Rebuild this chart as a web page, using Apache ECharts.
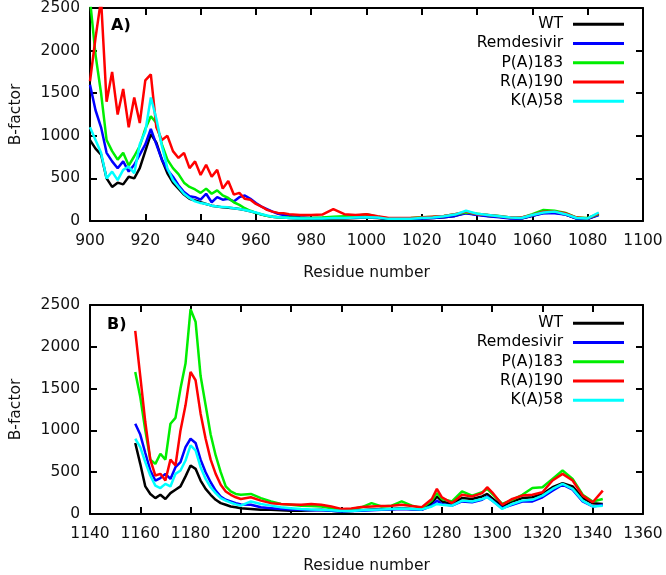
<!DOCTYPE html>
<html>
<head>
<meta charset="utf-8">
<script src="https://cdn.jsdelivr.net/npm/echarts@6/dist/echarts.min.js"></script>
<style>html,body{margin:0;padding:0;background:#fff}#c{width:666px;height:575px}</style>
</head>
<body>
<div id="c"></div>
<script>
// ---- Data ----
const seriesNames = ['WT', 'Remdesivir', 'P(A)183', 'R(A)190', 'K(A)58'];
const xTicksA = [900, 1100, 20];
const xTicksB = [1140, 1360, 20];
const yTicks = [0, 2500, 500];

// Panel A residues
const residuesA = [900,902,904,906,908,910,912,914,916,918,920,922,924,926,928,930,932,934,936,938,
  940,942,944,946,948,950,952,954,956,958,960,962,964,966,968,970,
  972,976,980,984,988,992,996,1000,1004,1008,1012,1016,1020,1024,1028,1032,1036,1040,1044,1048,1052,1056,1060,1064,1068,1072,1076,1080,1084];
const wtA = [950,850,780,500,400,450,430,520,500,620,820,1020,920,720,560,450,380,310,260,240,
  220,200,180,170,160,155,150,140,130,115,95,75,60,50,45,40,
  35,30,25,25,30,30,35,40,35,20,20,25,30,35,45,60,95,75,60,50,35,30,60,95,100,75,30,25,75];
const remA = [1600,1300,1100,800,700,620,700,580,660,780,900,1080,900,720,600,520,420,340,290,280,
  250,320,220,280,250,260,230,280,300,260,210,170,140,110,85,70,
  60,45,35,35,40,40,40,50,40,25,25,25,30,35,45,60,90,70,55,45,30,30,60,90,90,75,30,25,70];
const pA = [2600,1950,1500,950,820,720,800,650,760,880,1080,1230,1150,900,720,620,550,450,400,370,
  330,380,320,360,300,270,220,190,150,120,95,80,60,50,45,40,
  40,35,35,40,50,55,60,80,50,30,30,35,45,50,60,80,100,85,70,60,40,40,80,130,120,95,40,35,80];
const rA = [1640,2150,2600,1400,1750,1250,1550,1100,1450,1150,1650,1720,1100,950,1000,820,740,800,620,700,
  540,660,520,600,380,470,310,330,260,250,200,170,130,110,95,90,
  80,70,70,75,140,80,70,80,55,35,35,35,40,50,60,80,110,80,70,55,40,40,70,110,110,90,40,30,90];
const kA = [1100,950,800,500,580,480,600,640,560,900,1050,1450,1200,880,620,480,400,320,270,230,
  210,200,180,170,165,160,150,140,130,115,100,80,65,50,45,40,
  35,30,30,30,35,35,40,45,40,25,25,25,35,40,55,75,120,85,70,55,40,35,70,100,110,80,35,30,100];

// Panel B residues
const residuesB = [1158,1160,1162,1164,1166,1168,1170,1172,1174,1176,1178,1180,1182,1184,1186,1188,1190,1192,1194,1196,1198,1200,
  1204,1208,1212,1216,1220,1224,1228,1232,1236,1240,1244,1248,1252,1256,1260,1264,1268,1272,
  1276,1278,1280,1284,1288,1292,1296,1298,1300,1304,1308,1312,1316,1320,1324,1328,1332,1336,1340,1344];
const wtB = [850,600,330,240,190,230,180,250,290,330,450,580,540,400,300,230,170,130,110,90,80,70,
  60,50,50,45,40,40,45,50,40,30,35,45,55,60,60,70,60,50,
  130,210,150,120,190,180,210,240,190,90,150,190,200,240,320,370,330,190,130,120];
const remB = [1080,950,730,520,400,430,480,420,560,620,800,900,850,650,500,380,280,210,170,150,130,115,
  110,80,70,60,55,50,45,45,40,30,35,40,45,50,55,60,55,50,
  100,160,120,100,150,140,170,210,160,70,110,150,150,200,280,350,290,150,90,110];
const pB = [1700,1400,1000,650,600,720,650,1080,1150,1500,1800,2450,2300,1650,1300,950,700,500,330,270,240,230,
  240,190,150,120,110,100,95,90,70,55,60,80,130,90,100,150,100,70,
  160,250,180,150,270,220,260,300,240,120,170,230,310,320,420,520,420,230,150,180];
const rB = [2190,1650,1100,650,460,480,400,650,580,1000,1300,1700,1600,1200,900,650,480,350,270,230,200,180,
  200,160,130,120,115,110,120,110,90,60,65,85,90,95,100,110,95,80,
  180,300,200,130,230,210,250,320,260,110,180,220,230,260,400,480,400,220,140,280];
const kB = [900,800,620,460,340,310,360,330,480,520,640,820,760,560,420,320,250,190,160,135,115,100,
  150,120,100,80,70,60,55,50,45,35,35,45,50,55,60,65,60,55,
  90,120,110,100,160,150,180,200,160,60,120,160,170,220,300,360,300,160,90,100];

const colors = ['#000000', '#0000ff', '#00ee00', '#ff0000', '#00ffff'];
const panelA = [wtA, remA, pA, rA, kA];
const panelB = [wtB, remB, pB, rB, kB];

// ---- Chart ----
const FONT = 'DejaVu Sans';
const FS = 15.5;
const txt = {color: '#111', fontFamily: FONT, fontSize: FS};
function pairs(xs, ys) { return xs.map((x, i) => [x, ys[i]]); }
const plain = v => String(v);

function xAx(grid, t, main) {
  return {
    type: 'value', gridIndex: grid, min: t[0], max: t[1], interval: t[2],
    position: main ? 'bottom' : 'top',
    name: main ? 'Residue number' : '', nameLocation: 'middle', nameGap: 44,
    nameTextStyle: txt,
    axisLine: {show: true, onZero: false, lineStyle: {color: '#000', width: 2}},
    axisTick: {show: true, inside: true, length: 7, lineStyle: {color: '#000', width: 2}},
    axisLabel: {show: main, margin: 12, formatter: plain, ...txt},
    splitLine: {show: false}
  };
}
function yAx(grid, main) {
  return {
    type: 'value', gridIndex: grid, min: yTicks[0], max: yTicks[1], interval: yTicks[2],
    position: main ? 'left' : 'right',
    name: main ? 'B-factor' : '', nameLocation: 'middle', nameGap: 66, nameRotate: 90,
    nameTextStyle: txt,
    axisLine: {show: true, onZero: false, lineStyle: {color: '#000', width: 2}},
    axisTick: {show: true, inside: true, length: 7, lineStyle: {color: '#000', width: 2}},
    axisLabel: {show: main, margin: 10, formatter: plain, ...txt},
    splitLine: {show: false}
  };
}

const series = [];
[panelA, panelB].forEach((panel, g) => {
  const xs = g === 0 ? residuesA : residuesB;
  panel.forEach((vals, i) => {
    series.push({
      name: seriesNames[i], type: 'line', xAxisIndex: g * 2, yAxisIndex: g * 2,
      data: pairs(xs, vals), symbol: 'none', showSymbol: false,
      lineStyle: {color: colors[i], width: 2.5}, itemStyle: {color: colors[i]},
      clip: true, animation: false
    });
  });
});

function legend(top) {
  return {
    data: seriesNames.map(n => ({name: n, icon: 'rect'})),
    orient: 'vertical', align: 'right', right: 42, top: top,
    padding: 0, itemGap: 0, itemWidth: 51, itemHeight: 3,
    formatter: n => n + ' ',
    textStyle: {color: '#000', fontFamily: FONT, fontSize: FS, lineHeight: 19.3},
    selectedMode: false
  };
}

const chart = echarts.init(document.getElementById('c'), null, {renderer: 'canvas'});
chart.setOption({
  animation: false,
  backgroundColor: '#fff',
  color: colors,
  grid: [
    {left: 88, right: 23, top: 6, height: 215},
    {left: 88, right: 23, top: 305, height: 215}
  ],
  xAxis: [xAx(0, xTicksA, true), xAx(0, xTicksA, false), xAx(1, xTicksB, true), xAx(1, xTicksB, false)],
  yAxis: [yAx(0, true), yAx(0, false), yAx(1, true), yAx(1, false)],
  legend: [legend(14.5), legend(313.5)],
  graphic: [
    {type: 'text', left: 111, top: 18, style: {text: 'A)', font: 'bold 16px "DejaVu Sans"', fill: '#000'}},
    {type: 'text', left: 107, top: 317, style: {text: 'B)', font: 'bold 16px "DejaVu Sans"', fill: '#000'}}
  ],
  series: series
});
</script>
</body>
</html>
